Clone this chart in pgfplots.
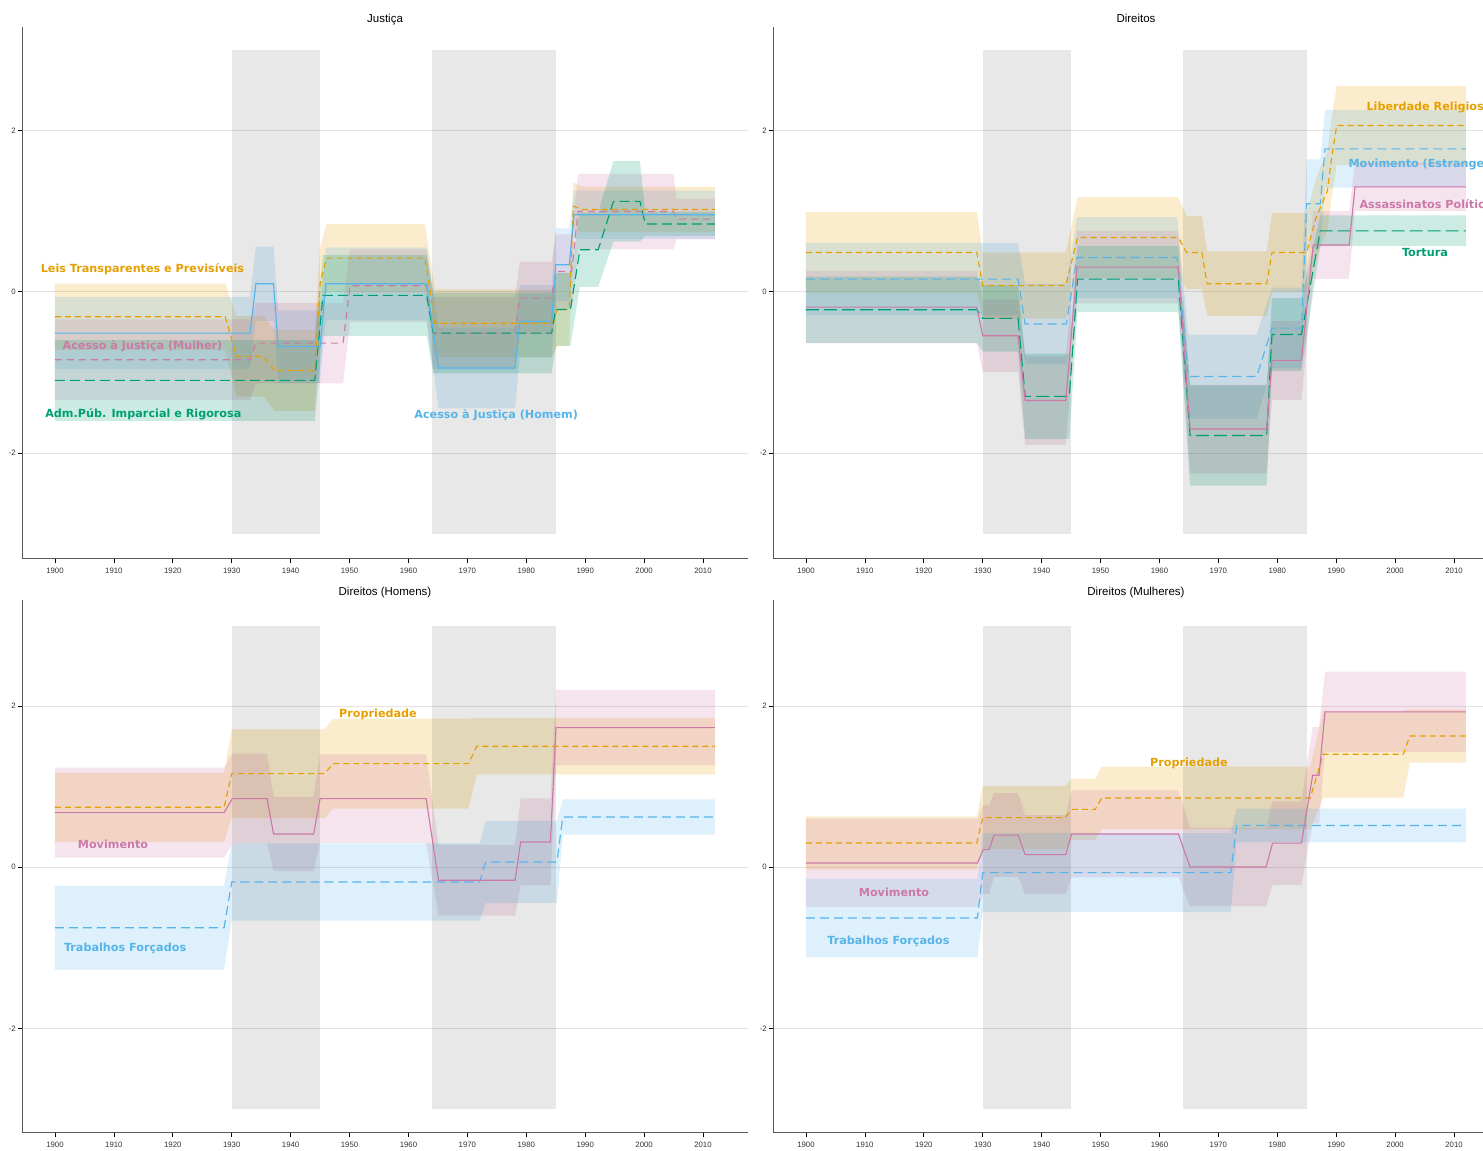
\documentclass[border=0pt]{standalone}
\usepackage{pgfplots}
\pgfplotsset{compat=1.18}
\usepackage{pgfplotstable}
\usepgfplotslibrary{fillbetween}
\usepackage{fontspec}
\setmainfont{Liberation Sans}
\newfontfamily\labfont{DejaVu Sans}
\definecolor{cO}{HTML}{E69F00}
\definecolor{cB}{HTML}{56B4E9}
\definecolor{cG}{HTML}{009E73}
\definecolor{cP}{HTML}{CC79A7}

% ---------- Justica ----------
\pgfplotstableread{
x m h
1900 -0.31 0.41
1928.9 -0.31 0.41
1930.8 -0.80 0.50
1935.4 -0.80 0.50
1937.3 -0.975 0.50
1944.1 -0.975 0.50
1945.0 0.10 0.45
1946.1 0.417 0.42
1962.8 0.417 0.42
1964.5 -0.39 0.42
1984.3 -0.39 0.42
1985.3 -0.22 0.45
1987.3 -0.22 0.45
1988.0 1.06 0.30
1989.5 1.02 0.28
2012 1.02 0.28
}\tJO
\pgfplotstableread{
x m h
1900 -0.512 0.45
1933.1 -0.512 0.45
1934.1 0.099 0.46
1937.1 0.099 0.46
1937.9 -0.68 0.45
1945.0 -0.68 0.45
1946.0 0.099 0.45
1963.1 0.099 0.45
1965.1 -0.945 0.50
1978.1 -0.945 0.50
1978.9 -0.367 0.45
1984.3 -0.367 0.45
1985.0 0.334 0.45
1987.3 0.334 0.45
1988.1 0.954 0.30
2012 0.954 0.30
}\tJB
\pgfplotstableread{
x m h
1900 -0.842 0.50
1933.1 -0.842 0.50
1934.1 -0.636 0.50
1948.9 -0.636 0.50
1950.1 0.074 0.45
1963.1 0.074 0.45
1964.2 -0.512 0.45
1978.1 -0.512 0.45
1978.9 -0.078 0.45
1984.3 -0.078 0.45
1985.0 0.252 0.46
1987.7 0.252 0.46
1988.8 0.995 0.47
2004.96 0.995 0.47
2005.5 0.90 0.25
2012 0.90 0.25
}\tJP
\pgfplotstableread{
x m h
1900 -1.098 0.50
1944.1 -1.098 0.50
1945.5 -0.045 0.50
1963.1 -0.045 0.50
1964.2 -0.512 0.50
1984.3 -0.512 0.50
1985.0 -0.22 0.45
1987.5 -0.22 0.45
1989.1 0.52 0.46
1992.2 0.52 0.46
1994.8 1.12 0.50
1999.3 1.12 0.50
2000.2 0.84 0.15
2012 0.84 0.15
}\tJG

% ---------- Direitos ----------
\pgfplotstableread{
x m h
1900 0.487 0.50
1929.0 0.487 0.50
1930.0 0.078 0.41
1944.1 0.078 0.41
1946.1 0.673 0.50
1963.2 0.673 0.50
1964.6 0.487 0.45
1967.2 0.487 0.45
1968.1 0.099 0.40
1978.2 0.099 0.40
1979.1 0.487 0.49
1985.0 0.487 0.49
1986.5 0.90 0.49
1988.5 1.25 0.49
1989.3 1.70 0.49
1990.1 2.06 0.49
2012 2.06 0.49
}\tDO
\pgfplotstableread{
x m h
1900 0.157 0.45
1936.0 0.157 0.45
1937.2 -0.40 0.50
1944.2 -0.40 0.50
1946.0 0.425 0.50
1963.0 0.425 0.50
1964.9 -1.05 0.52
1976.5 -1.05 0.52
1979.1 -0.45 0.50
1984.1 -0.45 0.50
1985.0 1.09 0.55
1987.3 1.09 0.55
1988.1 1.77 0.48
2012 1.77 0.48
}\tDB
\pgfplotstableread{
x m h
1900 -0.19 0.45
1929.0 -0.19 0.45
1930.0 -0.545 0.45
1936.0 -0.545 0.45
1937.2 -1.346 0.55
1944.1 -1.346 0.55
1946.0 0.305 0.45
1963.2 0.305 0.45
1965.2 -1.70 0.55
1978.2 -1.70 0.55
1979.1 -0.85 0.49
1984.1 -0.85 0.49
1986.1 0.58 0.42
1992.2 0.58 0.42
1993.2 1.30 0.30
2012 1.30 0.30
}\tDP
\pgfplotstableread{
x m h
1900 -0.223 0.41
1929.0 -0.223 0.41
1930.0 -0.33 0.41
1936.0 -0.33 0.41
1937.2 -1.296 0.53
1944.7 -1.296 0.53
1946.1 0.157 0.41
1963.2 0.157 0.41
1965.2 -1.78 0.62
1978.2 -1.78 0.62
1979.1 -0.53 0.45
1984.1 -0.53 0.45
1987.3 0.755 0.19
2012 0.755 0.19
}\tDG

% ---------- Direitos (Homens) ----------
\pgfplotstableread{
x m h
1900 0.745 0.43
1928.7 0.745 0.43
1930.0 1.164 0.55
1945.8 1.164 0.55
1947.2 1.288 0.56
1970.2 1.288 0.56
1971.6 1.503 0.35
2012 1.503 0.35
}\tHO
\pgfplotstableread{
x m h
1900 0.679 0.56
1928.7 0.679 0.56
1930.1 0.853 0.56
1936.0 0.853 0.56
1937.1 0.414 0.46
1943.9 0.414 0.46
1945.0 0.853 0.55
1963.0 0.853 0.55
1965.1 -0.16 0.44
1978.1 -0.16 0.44
1979.05 0.315 0.54
1984.1 0.315 0.54
1985.05 1.735 0.47
2012 1.735 0.47
}\tHP
\pgfplotstableread{
x m h
1900 -0.75 0.52
1928.7 -0.75 0.52
1930.0 -0.182 0.48
1972.1 -0.182 0.48
1973.1 0.066 0.51
1985.2 0.066 0.51
1986.2 0.625 0.22
2012 0.625 0.22
}\tHB

% ---------- Direitos (Mulheres) ----------
\pgfplotstableread{
x m h
1900 0.302 0.33
1929.0 0.302 0.33
1930.0 0.617 0.39
1944.0 0.617 0.39
1945.1 0.72 0.38
1949.1 0.72 0.38
1950.2 0.861 0.39
1985.6 0.861 0.39
1987.8 1.404 0.54
2001.4 1.404 0.54
2002.5 1.63 0.33
2012 1.63 0.33
}\tMO
\pgfplotstableread{
x m h
1900 0.054 0.55
1929.1 0.054 0.55
1930.1 0.22 0.55
1931.1 0.22 0.55
1931.9 0.40 0.52
1936.0 0.40 0.52
1937.2 0.157 0.49
1944.1 0.157 0.49
1945.1 0.414 0.54
1963.2 0.414 0.54
1965.2 0.004 0.49
1978.1 0.004 0.49
1979.2 0.30 0.52
1984.1 0.30 0.52
1986.0 1.143 0.60
1987.1 1.143 0.60
1988.1 1.93 0.50
2012 1.93 0.50
}\tMP
\pgfplotstableread{
x m h
1900 -0.63 0.49
1929.1 -0.63 0.49
1930.0 -0.066 0.49
1972.1 -0.066 0.49
1973.1 0.52 0.21
2012 0.52 0.21
}\tMB

\newcommand{\band}[3]{%
  \addplot[name path=U#3, draw=none, forget plot] table[x=x, y expr=\thisrow{m}+\thisrow{h}] {#1};
  \addplot[name path=L#3, draw=none, forget plot] table[x=x, y expr=\thisrow{m}-\thisrow{h}] {#1};
  \addplot[fill=#2, fill opacity=0.2, draw=none, forget plot] fill between[of=U#3 and L#3];
}
\newcommand{\greys}{%
  \addplot[fill=black, fill opacity=0.09, draw=none, forget plot] coordinates {(1930,-3) (1945,-3) (1945,3) (1930,3)} -- cycle;
  \addplot[fill=black, fill opacity=0.09, draw=none, forget plot] coordinates {(1964,-3) (1985.05,-3) (1985.05,3) (1964,3)} -- cycle;
}

\pgfplotsset{
  panel/.style={
    scale only axis, width=726pt,
    xmin=1894.4, xmax=2017.64,
    axis x line*=bottom, axis y line*=left,
    axis line style={-, line width=1pt, black!65},
    xtick={1900,1910,1920,1930,1940,1950,1960,1970,1980,1990,2000,2010},
    xticklabels={1900,1910,1920,1930,1940,1950,1960,1970,1980,1990,2000,2010},
    ytick={-2,0,2}, yticklabels={-2,0,2},
    ymajorgrids, grid style={line width=0.6pt, black!11},
    tick style={black, line width=0.7pt}, major tick length=4pt, tick align=outside,
    tick label style={font=\fontsize{7.8}{8}\selectfont, text=black!80},
    xticklabel style={inner sep=2pt, yshift=-3pt},
    yticklabel style={inner sep=2pt},
    title style={font=\fontsize{11.5}{13}\selectfont, at={(0.5,1)}, anchor=base, yshift=-1.5pt, inner sep=0pt},
    clip=false,
  },
  lw/.style={line width=1.15pt},
}
\tikzset{lab/.style={font=\labfont\bfseries\fontsize{11.2}{13}\selectfont}}

\begin{document}
\begin{tikzpicture}
% ---- Justica ----
\begin{axis}[panel, at={(22pt,592pt)}, anchor=south west, height=532pt, ymin=-3.31, ymax=3.28, title={Justiça}]
\greys
\band{\tJO}{cO}{a}
\band{\tJB}{cB}{b}
\band{\tJP}{cP}{c}
\band{\tJG}{cG}{d}
\addplot[cO, lw, dash pattern=on 6pt off 4pt] table[x=x,y=m] {\tJO};
\addplot[cP, lw, dash pattern=on 7pt off 5pt] table[x=x,y=m] {\tJP};
\addplot[cG, lw, dash pattern=on 10pt off 5pt] table[x=x,y=m] {\tJG};
\addplot[cB, lw] table[x=x,y=m] {\tJB};
\node[lab, text=cO] at (axis cs:1914.85,0.285) {Leis Transparentes e Previsíveis};
\node[lab, text=cP] at (axis cs:1914.85,-0.669) {Acesso à Justiça (Mulher)};
\node[lab, text=cG] at (axis cs:1915.0,-1.523) {Adm.Púb. Imparcial e Rigorosa};
\node[lab, text=cB] at (axis cs:1974.9,-1.523) {Acesso à Justiça (Homem)};
\end{axis}
% ---- Direitos ----
\begin{axis}[panel, at={(773pt,592pt)}, anchor=south west, height=532pt, ymin=-3.31, ymax=3.28, title={Direitos}]
\greys
\band{\tDO}{cO}{e}
\band{\tDB}{cB}{f}
\band{\tDP}{cP}{g}
\band{\tDG}{cG}{h}
\addplot[cO, lw, dash pattern=on 6pt off 4pt] table[x=x,y=m] {\tDO};
\addplot[cB, lw, dash pattern=on 9pt off 5pt] table[x=x,y=m] {\tDB};
\addplot[cG, lw, dash pattern=on 13pt off 5pt] table[x=x,y=m] {\tDG};
\addplot[cP, lw] table[x=x,y=m] {\tDP};
\node[lab, text=cO, anchor=west] at (axis cs:1994.55,2.279) {Liberdade Religiosa};
\node[lab, text=cB, anchor=west] at (axis cs:1991.5,1.573) {Movimento (Estrangeiros)};
\node[lab, text=cP, anchor=west] at (axis cs:1993.36,1.09) {Assassinatos Políticos};
\node[lab, text=cG] at (axis cs:2005.07,0.483) {Tortura};
\end{axis}
% ---- Direitos (Homens) ----
\begin{axis}[panel, at={(22pt,18pt)}, anchor=south west, height=533pt, ymin=-3.30, ymax=3.32, title={Direitos (Homens)}]
\greys
\band{\tHO}{cO}{i}
\band{\tHP}{cP}{j}
\band{\tHB}{cB}{k}
\addplot[cO, lw, dash pattern=on 6pt off 4pt] table[x=x,y=m] {\tHO};
\addplot[cB, lw, dash pattern=on 9pt off 5pt] table[x=x,y=m] {\tHB};
\addplot[cP, lw] table[x=x,y=m] {\tHP};
\node[lab, text=cO] at (axis cs:1954.83,1.90) {Propriedade};
\node[lab, text=cP] at (axis cs:1909.85,0.286) {Movimento};
\node[lab, text=cB] at (axis cs:1911.9,-1.006) {Trabalhos Forçados};
\end{axis}
% ---- Direitos (Mulheres) ----
\begin{axis}[panel, at={(773pt,18pt)}, anchor=south west, height=533pt, ymin=-3.30, ymax=3.32, title={Direitos (Mulheres)}]
\greys
\band{\tMO}{cO}{l}
\band{\tMP}{cP}{m}
\band{\tMB}{cB}{n}
\addplot[cO, lw, dash pattern=on 6pt off 4pt] table[x=x,y=m] {\tMO};
\addplot[cB, lw, dash pattern=on 9pt off 5pt] table[x=x,y=m] {\tMB};
\addplot[cP, lw] table[x=x,y=m] {\tMP};
\node[lab, text=cO] at (axis cs:1965.0,1.292) {Propriedade};
\node[lab, text=cP] at (axis cs:1914.94,-0.311) {Movimento};
\node[lab, text=cB] at (axis cs:1914.0,-0.919) {Trabalhos Forçados};
\end{axis}
\pgfresetboundingbox
\path[use as bounding box] (0pt,0pt) rectangle (1483pt,1151pt);
\end{tikzpicture}
\end{document}
